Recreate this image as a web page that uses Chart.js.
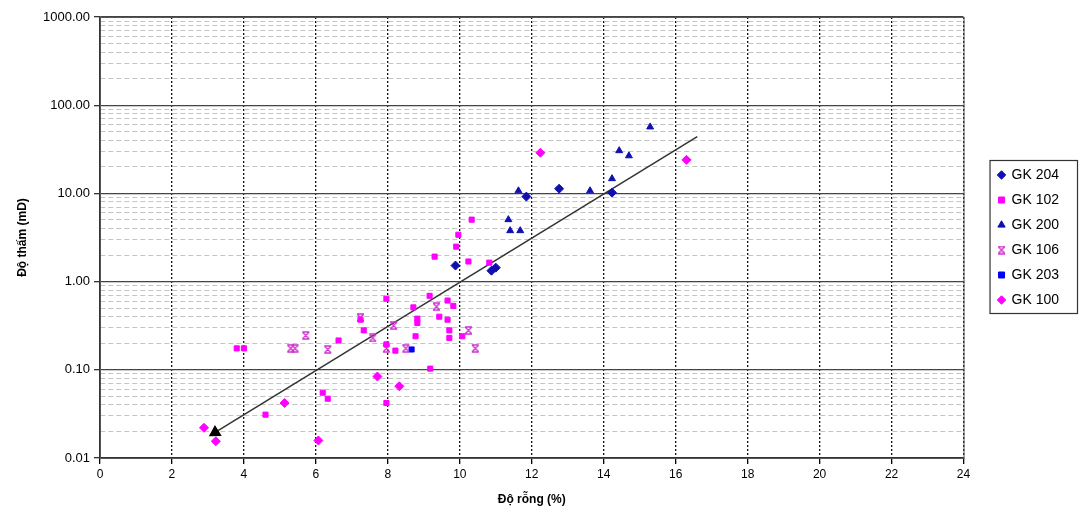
<!DOCTYPE html>
<html>
<head>
<meta charset="utf-8">
<script src="https://cdn.jsdelivr.net/npm/chart.js@4.4.1/dist/chart.umd.min.js"></script>
<style>
  body { margin: 0; background: #fff; }
  #wrap { width: 1081px; height: 515px; }
</style>
</head>
<body>
<div id="wrap"><canvas id="myChart"></canvas></div>
<script>
// porosity (%) / permeability (mD) per well
const gk204X = [9.88, 10.88, 11.0, 11.85, 12.76, 14.23];
const gk204Y = [1.52, 1.33, 1.44, 9.2, 11.3, 10.2];

const gk102X = [3.8, 4.0, 4.6, 6.19, 6.33, 6.63, 7.24, 7.33, 7.96, 7.96, 7.96, 8.21, 8.71, 8.77, 8.82, 8.82, 9.16, 9.18, 9.3, 9.43, 9.66, 9.66, 9.71, 9.71, 9.82, 9.9, 9.96, 10.07, 10.24, 10.33, 10.82];
const gk102Y = [0.175, 0.175, 0.031, 0.055, 0.047, 0.215, 0.37, 0.28, 0.64, 0.194, 0.042, 0.165, 0.51, 0.24, 0.38, 0.34, 0.69, 0.103, 1.92, 0.40, 0.61, 0.37, 0.28, 0.23, 0.53, 2.49, 3.4, 0.24, 1.69, 5.04, 1.64];

const gk200X = [11.35, 11.4, 11.63, 11.68, 13.62, 14.23, 14.43, 14.7, 15.29];
const gk200Y = [5.04, 3.78, 10.7, 3.78, 10.7, 14.7, 30.5, 26.7, 56.7];

const gk106X = [5.3, 5.42, 5.72, 6.33, 7.24, 7.58, 7.96, 8.16, 8.5, 9.35, 10.24, 10.43];
const gk106Y = [0.175, 0.175, 0.245, 0.17, 0.39, 0.23, 0.175, 0.317, 0.175, 0.52, 0.28, 0.175];

const gk203X = [8.66];
const gk203Y = [0.17];

const gk100X = [2.89, 3.22, 5.13, 6.07, 7.71, 8.32, 12.24, 16.3];
const gk100Y = [0.022, 0.0155, 0.042, 0.0158, 0.084, 0.065, 28.9, 24];

// trend line end points
const trendX = [3.2, 16.6];
const trendY = [0.0195, 44];

// y axis: decades and the minor steps inside each one
const yDecades = [0.01, 0.1, 1, 10, 100, 1000];
const yMinorSteps = [1, 2, 3, 4, 5, 6, 7, 8, 9];

const blue = '#1010b0';
const magenta = '#ff00ff';

function toPoints(xs, ys) {
    return xs.map((x, i) => ({ x: x, y: ys[i] }));
}

function isDecade(v) {
    if (v === undefined) return false;
    const l = Math.log10(v);
    return Math.abs(l - Math.round(l)) < 1e-6;
}

let yTicks = [];
for (let i = 0; i < yDecades.length - 1; i++) {
    for (let s of yMinorSteps) {
        yTicks.push(Number((yDecades[i] * s).toPrecision(3)));
    }
}
yTicks.push(yDecades[yDecades.length - 1]);

// excel style "x with bars" marker for GK 106
function makeStarMarker(color) {
    const c = document.createElement('canvas');
    c.width = 9; c.height = 9;
    const g = c.getContext('2d');
    g.strokeStyle = color;
    g.lineWidth = 1.3;
    g.beginPath();
    g.moveTo(1.5, 1.5); g.lineTo(7.5, 7.5);
    g.moveTo(7.5, 1.5); g.lineTo(1.5, 7.5);
    g.moveTo(1, 1); g.lineTo(8, 1);
    g.moveTo(1, 8); g.lineTo(8, 8);
    g.stroke();
    return c;
}
const starMarker = makeStarMarker('#d030d0');

// box around the legend + frame of the plot
const framePlugin = {
    id: 'frame',
    afterDraw(chart) {
        const ctx = chart.ctx;
        const a = chart.chartArea;
        ctx.save();
        ctx.strokeStyle = '#555';
        ctx.lineWidth = 1;
        ctx.strokeRect(a.left + 0.5, a.top + 0.5, a.right - a.left, a.bottom - a.top);

        const hb = chart.legend.legendHitBoxes;
        if (hb && hb.length) {
            const left = Math.min(...hb.map(h => h.left)) - 9;
            const top = hb[0].top - 8;
            const last = hb[hb.length - 1];
            const bottom = last.top + last.height + 6;
            const right = chart.width - 4;
            ctx.strokeStyle = '#333';
            ctx.lineWidth = 1.2;
            ctx.strokeRect(left + 0.5, top + 0.5, right - left, bottom - top);
        }
        ctx.restore();
    }
};

Chart.defaults.font.family = "'Liberation Sans', Arial, sans-serif";
Chart.defaults.color = '#000';

const ctx = document.getElementById('myChart');

new Chart(ctx, {
    type: 'scatter',
    data: {
        datasets: [
            {
                label: 'GK 204',
                data: toPoints(gk204X, gk204Y),
                pointStyle: 'rectRot',
                pointRadius: 4.5,
                backgroundColor: blue,
                borderColor: blue,
                borderWidth: 1
            },
            {
                label: 'GK 102',
                data: toPoints(gk102X, gk102Y),
                pointStyle: 'rect',
                pointRadius: 3.6,
                backgroundColor: magenta,
                borderColor: magenta,
                borderWidth: 1
            },
            {
                label: 'GK 200',
                data: toPoints(gk200X, gk200Y),
                pointStyle: 'triangle',
                pointRadius: 4,
                backgroundColor: blue,
                borderColor: blue,
                borderWidth: 1
            },
            {
                label: 'GK 106',
                data: toPoints(gk106X, gk106Y),
                pointStyle: starMarker,
                pointRadius: 4,
                backgroundColor: '#d030d0',
                borderColor: '#d030d0'
            },
            {
                label: 'GK 203',
                data: toPoints(gk203X, gk203Y),
                pointStyle: 'rect',
                pointRadius: 3.6,
                backgroundColor: '#0000ff',
                borderColor: '#0000ff',
                borderWidth: 1
            },
            {
                label: 'GK 100',
                data: toPoints(gk100X, gk100Y),
                pointStyle: 'rectRot',
                pointRadius: 4.5,
                backgroundColor: magenta,
                borderColor: magenta,
                borderWidth: 1
            },
            {
                label: 'Trend',
                data: toPoints(trendX, trendY),
                showLine: true,
                borderColor: '#333',
                borderWidth: 1.5,
                pointStyle: 'triangle',
                pointRadius: [6, 0],
                backgroundColor: '#000',
                pointBorderColor: '#000',
                pointRotation: (c) => {
                    const sx = c.chart.scales.x, sy = c.chart.scales.y;
                    const vx = sx.getPixelForValue(trendX[0]) - sx.getPixelForValue(trendX[1]);
                    const vy = sy.getPixelForValue(trendY[0]) - sy.getPixelForValue(trendY[1]);
                    return Math.atan2(vx, -vy) * 180 / Math.PI;
                }
            }
        ]
    },
    options: {
        responsive: true,
        maintainAspectRatio: false,
        animation: false,
        layout: {
            padding: { top: 17, right: 12, bottom: 0, left: 0 }
        },
        plugins: {
            tooltip: { enabled: false },
            legend: {
                position: 'right',
                fullSize: false,
                labels: {
                    usePointStyle: true,
                    boxWidth: 6,
                    boxHeight: 6,
                    padding: 11,
                    color: '#000',
                    font: { size: 14 },
                    filter: item => item.text !== 'Trend'
                }
            }
        },
        scales: {
            x: {
                type: 'linear',
                min: 0,
                max: 24,
                afterFit: (s) => { s.height = 57; },
                ticks: {
                    stepSize: 2,
                    padding: 3,
                    font: { size: 12 },
                    color: '#000'
                },
                grid: {
                    color: '#111',
                    lineWidth: 1.3,
                    tickColor: '#000',
                    tickLength: 6
                },
                border: {
                    color: '#333',
                    width: 1.3,
                    dash: [2, 2]
                },
                title: {
                    display: true,
                    text: 'Độ rỗng (%)',
                    font: { size: 12, weight: 'bold' },
                    padding: { top: 0, bottom: 8 }
                }
            },
            y: {
                type: 'logarithmic',
                min: 0.01,
                max: 1000,
                afterFit: (s) => { s.width = 100; },
                afterBuildTicks: (s) => {
                    s.ticks = yTicks.map(v => ({ value: v }));
                },
                ticks: {
                    autoSkip: false,
                    padding: 4,
                    font: { size: 13 },
                    color: '#000',
                    callback: (v) => isDecade(v) ? Number(v).toFixed(2) : ''
                },
                grid: {
                    color: (c) => isDecade(c.tick && c.tick.value) ? '#444' : '#c4c4c4',
                    lineWidth: (c) => isDecade(c.tick && c.tick.value) ? 1.3 : 1,
                    tickColor: (c) => isDecade(c.tick && c.tick.value) ? '#333' : 'rgba(0,0,0,0)',
                    tickLength: 6
                },
                border: {
                    color: '#333',
                    width: 1.3,
                    dash: (c) => isDecade(c.tick && c.tick.value) ? [] : [5, 3]
                },
                title: {
                    display: true,
                    text: 'Độ thấm (mD)',
                    font: { size: 12, weight: 'bold' },
                    padding: { top: 15, bottom: 0 }
                }
            },
            // empty axis, only keeps a gap between the plot and the legend
            gap: {
                type: 'linear',
                position: 'right',
                display: true,
                afterFit: (s) => { s.width = 24; },
                ticks: { display: false },
                grid: { display: false },
                border: { display: false }
            }
        }
    },
    plugins: [framePlugin]
});
</script>
</body>
</html>
